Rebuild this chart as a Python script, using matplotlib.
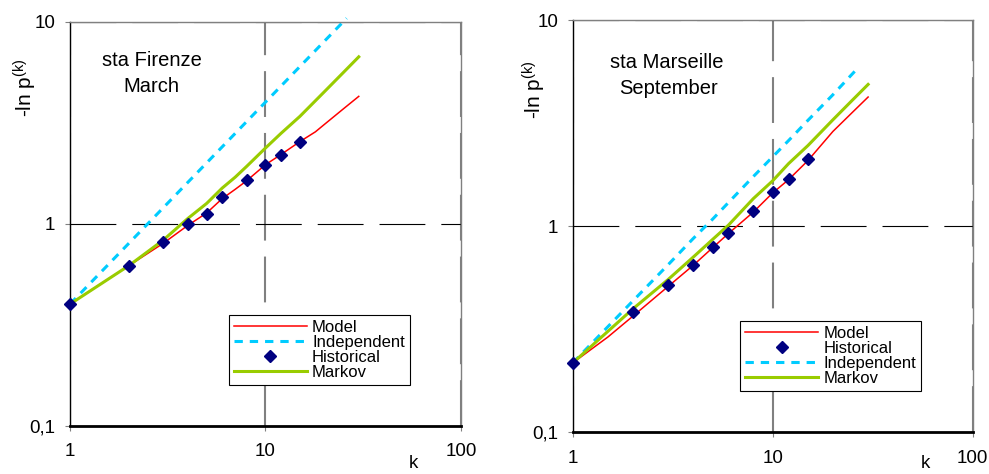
import numpy as np
import matplotlib
matplotlib.use("Agg")
from matplotlib import pyplot as plt

plt.rcParams['font.family'] = ['Liberation Sans', 'DejaVu Sans']
plt.rcParams['mathtext.default'] = 'regular'
plt.rcParams['lines.scale_dashes'] = False

# sta Firenze, March
fi_hist_k = [1, 2, 3, 4, 5, 6, 8, 10, 12, 15]
fi_hist = [0.40, 0.62, 0.81, 1.00, 1.12, 1.36, 1.64, 1.96, 2.19, 2.55]
fi_model_k = [1, 2, 3, 4, 5, 6, 7, 8, 10, 12, 15, 18, 20, 25, 30]
fi_model = [0.40, 0.62, 0.80, 0.98, 1.13, 1.33, 1.48, 1.63, 1.96, 2.20, 2.55, 2.85, 3.10, 3.70, 4.27]
fi_indep_k = [1, 2, 3, 4, 5, 6, 8, 10, 12, 15, 20, 26]
fi_indep = [0.40, 0.80, 1.20, 1.60, 2.00, 2.40, 3.20, 4.00, 4.80, 6.00, 8.00, 10.4]
fi_markov_k = [1, 2, 3, 4, 5, 6, 7, 8, 10, 12, 15, 20, 25, 30]
fi_markov = [0.40, 0.62, 0.83, 1.06, 1.26, 1.50, 1.70, 1.92, 2.37, 2.80, 3.40, 4.50, 5.60, 6.70]

# sta Marseille, September
ma_hist_k = [1, 2, 3, 4, 5, 6, 8, 10, 12, 15]
ma_hist = [0.217, 0.382, 0.521, 0.651, 0.791, 0.928, 1.18, 1.46, 1.69, 2.11]
ma_model_k = [1, 1.5, 2, 3, 4, 5, 6, 8, 10, 12, 15, 20, 25, 30]
ma_model = [0.217, 0.29, 0.366, 0.51, 0.645, 0.785, 0.92, 1.17, 1.45, 1.68, 2.08, 2.88, 3.56, 4.23]
ma_indep_k = [1, 2, 3, 4, 5, 6, 8, 10, 12, 15, 20, 26]
ma_indep = [0.217, 0.434, 0.65, 0.87, 1.08, 1.30, 1.74, 2.17, 2.60, 3.26, 4.34, 5.70]
ma_markov_k = [1, 2, 3, 4, 5, 6, 8, 10, 12, 15, 20, 25, 30]
ma_markov = [0.217, 0.397, 0.551, 0.707, 0.861, 1.01, 1.36, 1.66, 2.01, 2.46, 3.28, 4.08, 4.87]

x_ticks = [1, 10, 100]
x_labels = ['1', '10', '100']
y_ticks = [0.1, 1, 10]
y_labels = ['0,1', '1', '10']

dash = (0, (33, 11.5))


def draw_panel(ax, hist_k, hist, model_k, model, indep_k, indep, markov_k, markov, order, leg_pos):
    ax.set_xscale('log')
    ax.set_yscale('log')
    ax.set_xlim(1, 100)
    ax.set_ylim(0.1, 10)
    ax.set_xticks(x_ticks, x_labels)
    ax.set_yticks(y_ticks, y_labels)
    ax.minorticks_off()
    ax.tick_params(direction='out', length=3.6, width=0.8, color='#808080',
                   labelsize=13.5, pad=7)
    ax.tick_params(axis='x', pad=9)
    ax.grid(axis='y', color='black', lw=0.8, ls=dash)
    ax.grid(axis='x', color='#808080', lw=1.5, ls=dash)
    for s in ['top', 'right']:
        ax.spines[s].set_color('#808080')
        ax.spines[s].set_linewidth(1)
    ax.spines['left'].set_color('black')
    ax.spines['left'].set_linewidth(1)
    ax.spines['bottom'].set_color('black')
    ax.spines['bottom'].set_linewidth(2)

    h = {}
    h['Model'], = ax.plot(model_k, model, color='#FF0000', lw=1.1)
    h['Independent'], = ax.plot(indep_k, indep, color='#00CCFF', lw=2.2,
                                ls=(0, (6, 5)), clip_on=False)
    h['Markov'], = ax.plot(markov_k, markov, color='#99CC00', lw=2.2)
    h['Historical'], = ax.plot(hist_k, hist, ls='none', marker='D', ms=6,
                               color='#000080', clip_on=False, zorder=5)
    leg = ax.legend([h[n] for n in order], order, loc='upper left',
                    bbox_to_anchor=leg_pos, borderaxespad=0, fontsize=12,
                    handlelength=4.4, handletextpad=0.3, labelspacing=0,
                    borderpad=0.3, fancybox=False, framealpha=1,
                    edgecolor='black')
    leg.get_frame().set_linewidth(0.8)


fig = plt.figure(figsize=(9.89, 4.74), dpi=100)
ax1 = fig.add_axes([0.0708, 0.1019, 0.3953, 0.8523])
ax2 = fig.add_axes([0.5791, 0.0880, 0.4044, 0.8698])

draw_panel(ax1, fi_hist_k, fi_hist, fi_model_k, fi_model, fi_indep_k, fi_indep,
           fi_markov_k, fi_markov, ['Model', 'Independent', 'Historical', 'Markov'],
           (0.406, 0.275))
draw_panel(ax2, ma_hist_k, ma_hist, ma_model_k, ma_model, ma_indep_k, ma_indep,
           ma_markov_k, ma_markov, ['Model', 'Historical', 'Independent', 'Markov'],
           (0.418, 0.270))

W, H = 989, 474
fs = 14.5
fig.text(151.7 / W, 1 - 60 / H, 'sta Firenze', ha='center', va='center', fontsize=fs)
fig.text(151.7 / W, 1 - 87 / H, 'March', ha='center', va='center', fontsize=fs)
fig.text(667 / W, 1 - 62 / H, 'sta Marseille', ha='center', va='center', fontsize=fs)
fig.text(668.5 / W, 1 - 88 / H, 'September', ha='center', va='center', fontsize=fs)

fig.text(25 / W, 1 - 88 / H, '-ln p$^{(k)}$', rotation=90, ha='center', va='center', fontsize=15)
fig.text(534 / W, 1 - 90 / H, '-ln p$^{(k)}$', rotation=90, ha='center', va='center', fontsize=15)
fig.text(413 / W, 1 - 464 / H, 'k', ha='center', va='center', fontsize=13.5)
fig.text(925 / W, 1 - 464 / H, 'k', ha='center', va='center', fontsize=13.5)

fig.savefig('out.png', dpi=100)
